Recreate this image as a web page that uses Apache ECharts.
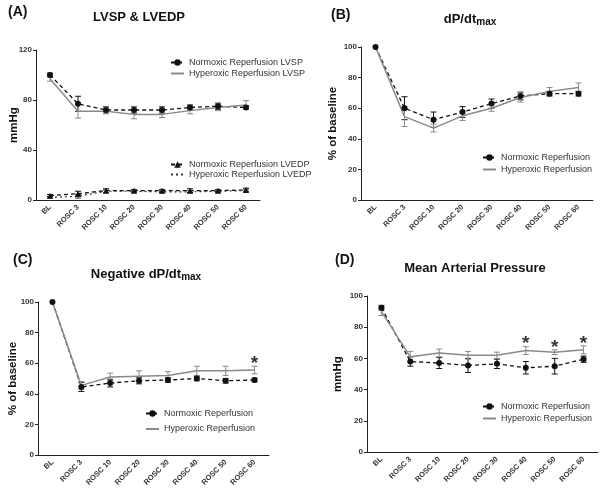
<!DOCTYPE html>
<html><head><meta charset="utf-8">
<script src="https://cdn.jsdelivr.net/npm/echarts@6/dist/echarts.min.js"></script>
<style>html,body{margin:0;padding:0;background:#fff}#c{width:600px;height:490px}</style>
</head><body><div id="c"></div>
<script>
const categories = ['BL','ROSC 3','ROSC 10','ROSC 20','ROSC 30','ROSC 40','ROSC 50','ROSC 60'];

// (A) LVSP & LVEDP (mmHg)
const aNormLVSP     = [100, 77, 72, 72, 72, 74, 75, 74];
const aNormLVSPErr  = [1.5, 6, 2.5, 2.5, 2.5, 2, 2.5, 1.5];
const aHypLVSP      = [97, 71, 71, 68.5, 68.5, 71.5, 74, 76];
const aHypLVSPErr   = [2, 5.5, 2, 3.5, 2.5, 2.5, 2.5, 3.5];
const aNormLVEDP    = [3.5, 5, 7.5, 7.5, 7.5, 7.5, 7.5, 8];
const aNormLVEDPErr = [0.8, 2, 1.5, 1, 1, 1.5, 1, 1.5];
const aHypLVEDP     = [2, 3, 7, 7, 6.5, 6.5, 7, 7.5];
const aHypLVEDPErr  = [0.5, 1.5, 1, 0.8, 0.8, 0.8, 0.8, 0.8];

// (B) dP/dt max (% of baseline)
const bNorm    = [100, 60, 52.5, 57.5, 63, 68, 69.5, 69.5];
const bNormErr = [0, 7.5, 5, 3.5, 3, 2.5, 1.5, 1.5];
const bHyp     = [100, 54.5, 47, 55, 60, 67, 71, 73.5];
const bHypErr  = [0, 6.5, 2.5, 3, 2, 3, 2.5, 3];

// (C) Negative dP/dt max (% of baseline)
const cNorm    = [100, 44.5, 47, 48.5, 49, 50, 48.5, 49];
const cNormErr = [0, 3, 2.5, 2, 1.5, 1.5, 1.5, 1.2];
const cHyp     = [100, 45.5, 51, 51.5, 52, 55, 55, 55.5];
const cHypErr  = [0, 2.5, 2.5, 3.5, 2.5, 3, 3, 2.5];
const cSig     = ['ROSC 60'];

// (D) Mean Arterial Pressure (mmHg)
const dNorm    = [92.5, 58, 57, 55.5, 56.5, 54, 55, 59.5];
const dNormErr = [1.5, 3, 3.5, 4.5, 3, 4, 5, 2];
const dHyp     = [90, 61, 63.5, 62, 62, 65, 64, 65.5];
const dHypErr  = [2.5, 3.5, 2.5, 2.5, 2, 2.5, 1.5, 2.5];
const dSig     = ['ROSC 40','ROSC 50','ROSC 60'];

const BLACK = '#111', GRAY = '#8a8a8a';
const FONT = 'Liberation Sans, Arial, sans-serif';

function errSeries(gi, vals, errs, color){
  return {
    type:'custom', xAxisIndex:gi, yAxisIndex:gi, silent:true, z:1,
    data: vals.map((v,i)=>[i, v-errs[i], v+errs[i]]),
    encode:{x:0, y:[1,2]},
    renderItem:(params, api)=>{
      if (api.value(2) - api.value(1) <= 0) return null;
      const lo = api.coord([api.value(0), api.value(1)]);
      const hi = api.coord([api.value(0), api.value(2)]);
      const w = 3;
      const st = {stroke:color, lineWidth:1};
      return {type:'group', children:[
        {type:'line', shape:{x1:lo[0],y1:lo[1],x2:hi[0],y2:hi[1]}, style:st},
        {type:'line', shape:{x1:lo[0]-w,y1:lo[1],x2:lo[0]+w,y2:lo[1]}, style:st},
        {type:'line', shape:{x1:hi[0]-w,y1:hi[1],x2:hi[0]+w,y2:hi[1]}, style:st}
      ]};
    }
  };
}
function lineSeries(gi, name, vals, opts){
  return Object.assign({
    type:'line', name:name, xAxisIndex:gi, yAxisIndex:gi, data:vals, z:3,
    symbol:'none', symbolSize:6, animation:false
  }, opts);
}
const normStyle = {symbol:'circle', symbolSize:6, itemStyle:{color:BLACK}, lineStyle:{color:BLACK, width:1.3, type:[4,3]}};
const hypStyle  = {symbol:'none', itemStyle:{color:GRAY}, lineStyle:{color:GRAY, width:1.5, type:'solid'}};

function sigSeries(gi, sigCats, hyp, hypErr){
  return {
    type:'scatter', xAxisIndex:gi, yAxisIndex:gi, symbolSize:0, silent:true,
    data: sigCats.map(c=>{const i=categories.indexOf(c); return [i, hyp[i]+hypErr[i]];}),
    label:{show:true, position:'top', distance:0, offset:[0,7], formatter:'*', fontSize:19, fontWeight:'bold', fontFamily:FONT, color:'#000'}
  };
}

const grids = [
  {left:36, top:50, width:224, height:150},
  {left:361, top:47, width:232, height:153},
  {left:38, top:302, width:231, height:153},
  {left:367, top:296, width:231, height:156}
];

function xAxis(gi){
  return {
    type:'category', gridIndex:gi, data:categories, boundaryGap:true,
    axisLine:{lineStyle:{color:'#222', width:1}},
    axisTick:{alignWithLabel:true, length:4, lineStyle:{color:'#222'}},
    axisLabel:{rotate:45, fontSize:7.5, fontWeight:'bold', color:'#333', fontFamily:FONT, margin:6, interval:0}
  };
}
function yAxis(gi, max, interval, name, gap){
  return {
    type:'value', gridIndex:gi, min:0, max:max, interval:interval,
    name:name, nameLocation:'middle', nameGap:gap, nameRotate:90, nameMoveOverlap:false,
    nameTextStyle:{fontSize:11.5, fontWeight:'bold', color:'#111', fontFamily:FONT},
    axisLine:{show:true, lineStyle:{color:'#222', width:1}},
    axisTick:{show:true, length:3, lineStyle:{color:'#222'}},
    splitLine:{show:false},
    axisLabel:{fontSize:8, fontWeight:'bold', color:'#333', fontFamily:FONT, margin:4}
  };
}
const hideSym = {itemStyle:{color:'rgba(0,0,0,0)', borderWidth:0, opacity:0}};
function legend(names, left, top, gap){
  return {
    data:[{name:names[0]}, Object.assign({name:names[1]}, hideSym)],
    orient:'vertical', left:left, top:top, itemWidth:13, itemHeight:8, itemGap:gap, padding:0,
    selectedMode:false,
    textStyle:{fontSize:9, color:'#333', fontFamily:FONT, padding:0}
  };
}

const series = [
  errSeries(0, aNormLVSP, aNormLVSPErr, BLACK),
  errSeries(0, aHypLVSP, aHypLVSPErr, GRAY),
  errSeries(0, aNormLVEDP, aNormLVEDPErr, BLACK),
  errSeries(0, aHypLVEDP, aHypLVEDPErr, '#444'),
  lineSeries(0, 'Normoxic Reperfusion LVSP', aNormLVSP, normStyle),
  lineSeries(0, 'Hyperoxic Reperfusion LVSP', aHypLVSP, hypStyle),
  lineSeries(0, 'Normoxic Reperfusion LVEDP', aNormLVEDP, {symbol:'triangle', symbolSize:6, itemStyle:{color:BLACK}, lineStyle:{color:BLACK, width:1.3, type:[4,3]}}),
  lineSeries(0, 'Hyperoxic Reperfusion LVEDP', aHypLVEDP, {symbol:'none', itemStyle:{color:'#333'}, lineStyle:{color:'#333', width:1.2, type:[2,3]}}),

  errSeries(1, bNorm, bNormErr, BLACK),
  errSeries(1, bHyp, bHypErr, GRAY),
  lineSeries(1, 'Normoxic Reperfusion', bNorm, normStyle),
  lineSeries(1, 'Hyperoxic Reperfusion', bHyp, hypStyle),

  errSeries(2, cNorm, cNormErr, BLACK),
  errSeries(2, cHyp, cHypErr, GRAY),
  lineSeries(2, 'Normoxic Reperfusion', cNorm, normStyle),
  lineSeries(2, 'Hyperoxic Reperfusion', cHyp, hypStyle),
  sigSeries(2, cSig, cHyp, cHypErr),

  errSeries(3, dNorm, dNormErr, BLACK),
  errSeries(3, dHyp, dHypErr, GRAY),
  lineSeries(3, 'Normoxic Reperfusion', dNorm, normStyle),
  lineSeries(3, 'Hyperoxic Reperfusion', dHyp, hypStyle),
  sigSeries(3, dSig, dHyp, dHypErr)
];

function titleText(x, y, rich){
  return {type:'text', x:x, y:y, style:{text:rich.text, rich:rich.rich, textAlign:'center', textVerticalAlign:'middle', fontFamily:FONT, fontSize:13, fontWeight:'bold', fill:'#111'}};
}
function panelLabel(x, y, t){
  return {type:'text', x:x, y:y, style:{text:t, fontFamily:FONT, fontSize:14, fontWeight:'bold', fill:'#111', textVerticalAlign:'middle'}};
}
const subRich = {
  a:{fontFamily:FONT, fontSize:13, fontWeight:'bold', color:'#111'},
  s:{fontFamily:FONT, fontSize:10, fontWeight:'bold', color:'#111', padding:[7,0,0,0]}
};

const option = {
  animation:false,
  backgroundColor:'#fff',
  grid:grids,
  xAxis:[xAxis(0), xAxis(1), xAxis(2), xAxis(3)],
  yAxis:[
    yAxis(0, 120, 40, 'mmHg', 16),
    yAxis(1, 100, 20, '% of baseline', 22),
    yAxis(2, 100, 20, '% of baseline', 19),
    yAxis(3, 100, 20, 'mmHg', 23)
  ],
  legend:[
    legend(['Normoxic Reperfusion LVSP','Hyperoxic Reperfusion LVSP'], 170, 58, 2),
    legend(['Normoxic Reperfusion LVEDP','Hyperoxic Reperfusion LVEDP'], 170, 160, 1),
    legend(['Normoxic Reperfusion','Hyperoxic Reperfusion'], 482, 153, 3),
    legend(['Normoxic Reperfusion','Hyperoxic Reperfusion'], 145, 409, 6.5),
    legend(['Normoxic Reperfusion','Hyperoxic Reperfusion'], 482, 402, 3)
  ],
  graphic:[
    panelLabel(8, 12, '(A)'),
    titleText(139, 17, {text:'LVSP & LVEDP'}),
    panelLabel(331, 15, '(B)'),
    titleText(470, 19, {text:'{a|dP/dt}{s|max}', rich:subRich}),
    panelLabel(13, 260, '(C)'),
    titleText(146, 274, {text:'{a|Negative dP/dt}{s|max}', rich:subRich}),
    panelLabel(335, 260, '(D)'),
    titleText(475, 268, {text:'Mean Arterial Pressure'})
  ],
  series:series
};
const chart = echarts.init(document.getElementById('c'));
chart.setOption(option);
</script></body></html>
